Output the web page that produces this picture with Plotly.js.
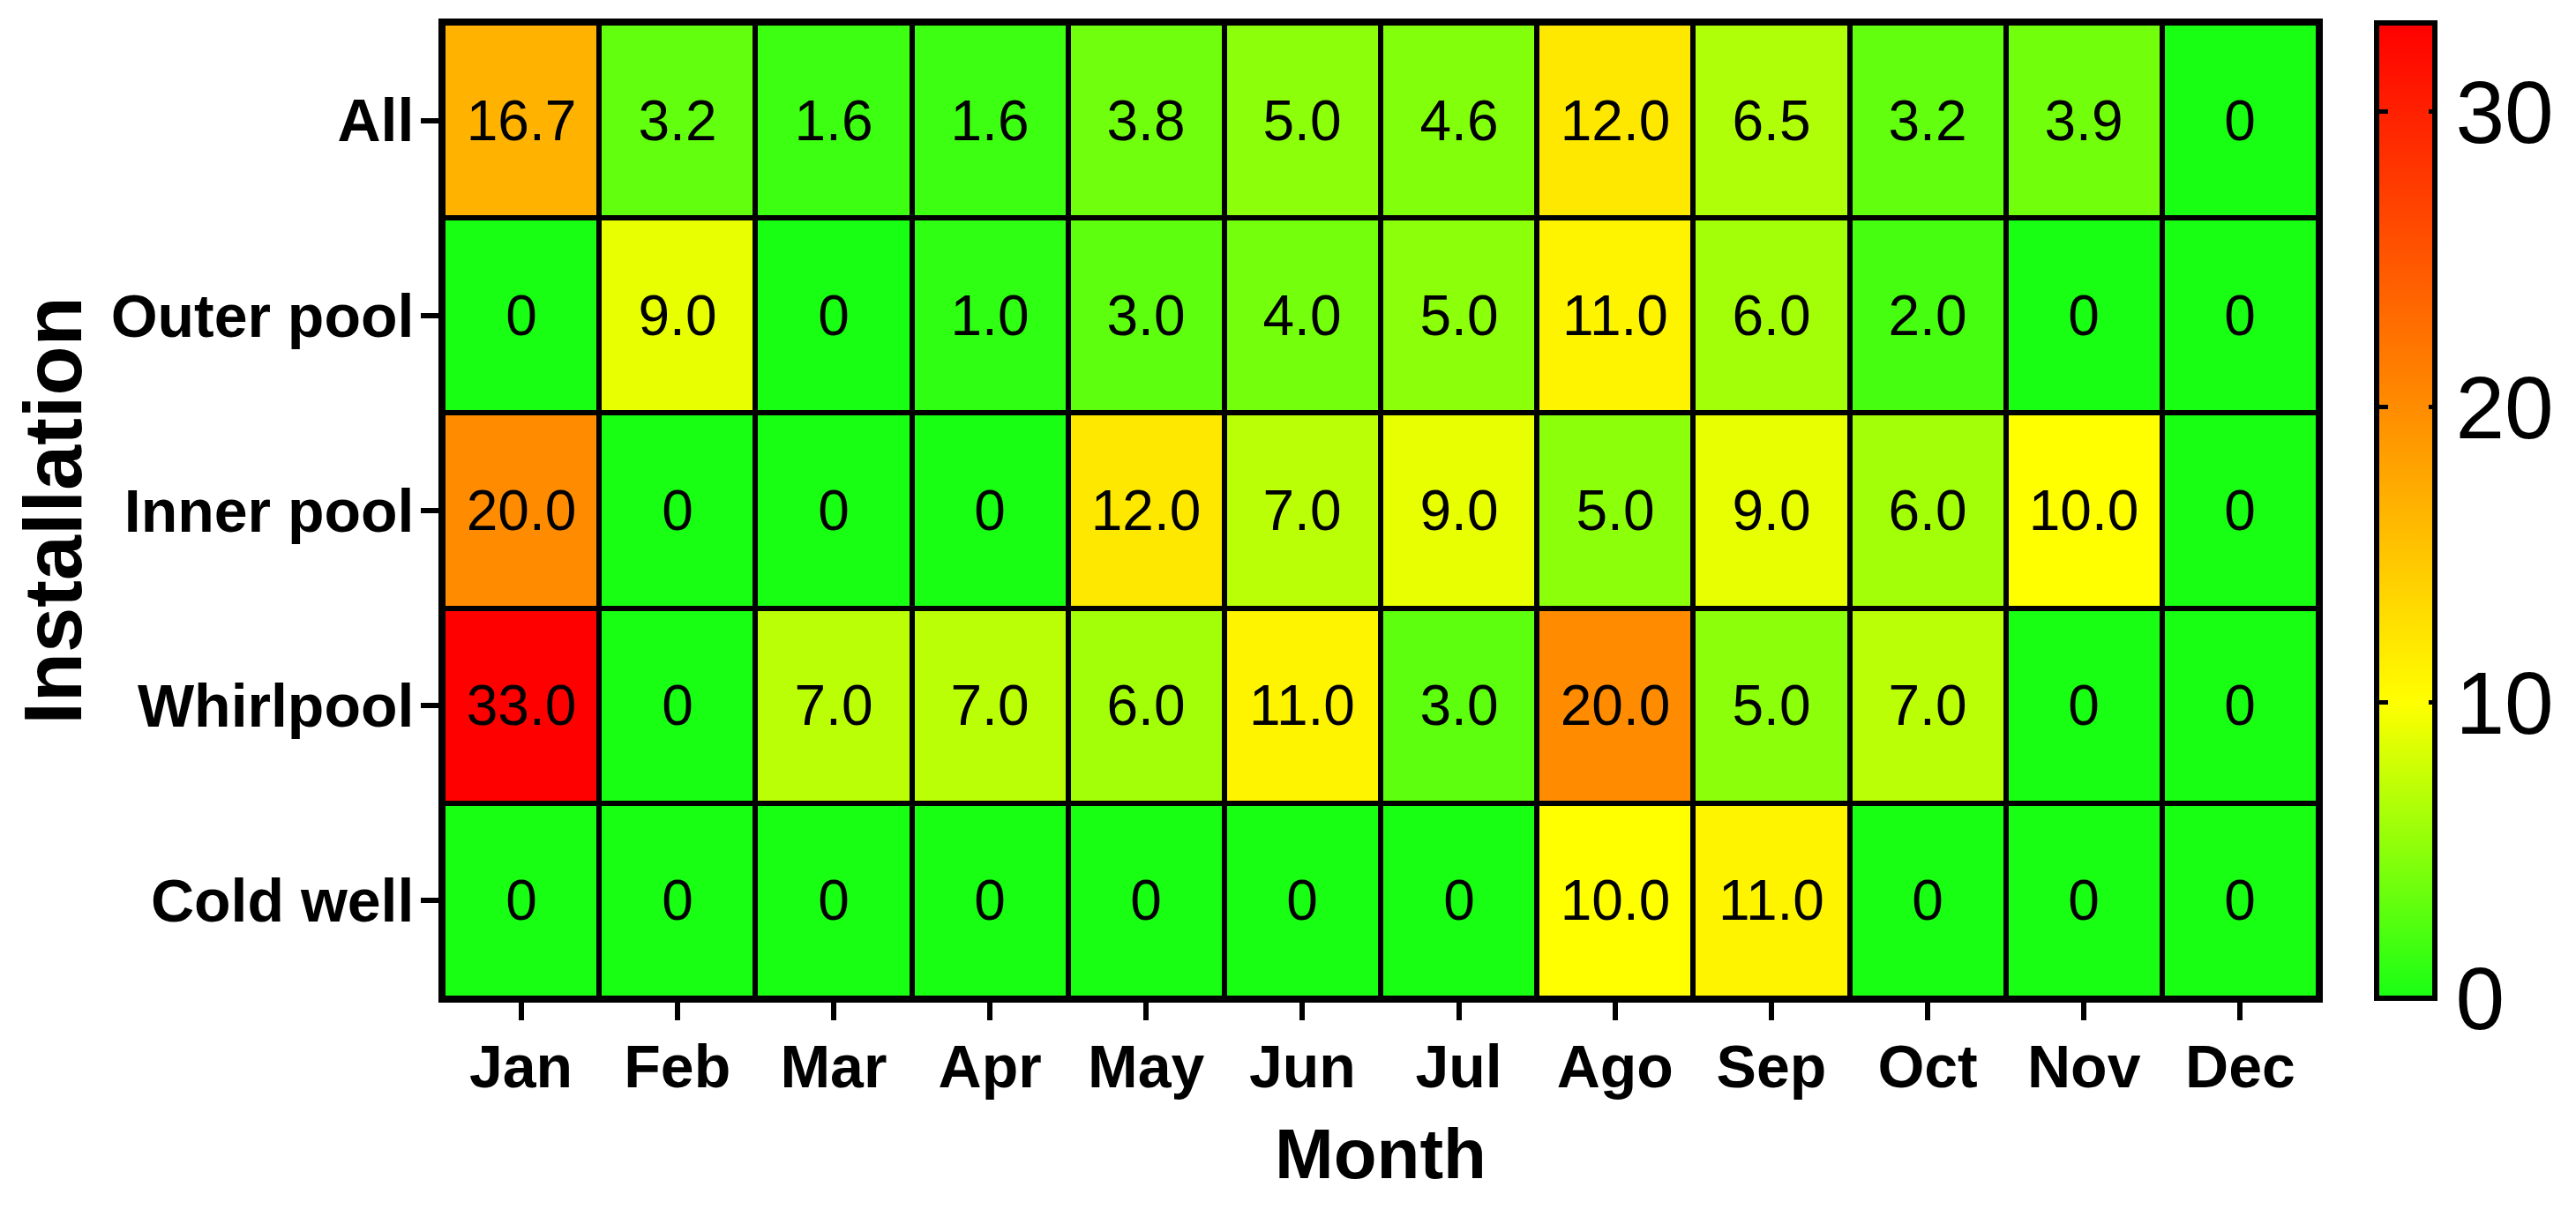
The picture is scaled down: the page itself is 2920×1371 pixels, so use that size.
<!DOCTYPE html>
<html>
<head>
<meta charset="utf-8">
<script src="https://cdn.plot.ly/plotly-3.0.1.min.js"></script>
<style>
  html, body { margin: 0; padding: 0; background: #ffffff; }
  #chart { width: 2920px; height: 1371px; }
</style>
</head>
<body>
<div id="chart"></div>
<script>
// Categories
const months = ['Jan', 'Feb', 'Mar', 'Apr', 'May', 'Jun', 'Jul', 'Ago', 'Sep', 'Oct', 'Nov', 'Dec'];
const installations = ['All', 'Outer pool', 'Inner pool', 'Whirlpool', 'Cold well'];

// Series values (one per installation, Jan..Dec)
const allValues       = [16.7, 3.2, 1.6, 1.6, 3.8, 5.0, 4.6, 12.0, 6.5, 3.2, 3.9, 0];
const outerPoolValues = [0, 9.0, 0, 1.0, 3.0, 4.0, 5.0, 11.0, 6.0, 2.0, 0, 0];
const innerPoolValues = [20.0, 0, 0, 0, 12.0, 7.0, 9.0, 5.0, 9.0, 6.0, 10.0, 0];
const whirlpoolValues = [33.0, 0, 7.0, 7.0, 6.0, 11.0, 3.0, 20.0, 5.0, 7.0, 0, 0];
const coldWellValues  = [0, 0, 0, 0, 0, 0, 0, 10.0, 11.0, 0, 0, 0];

// Colour bar ticks
const colorbarTicks = [0, 10, 20, 30];

const z = [allValues, outerPoolValues, innerPoolValues, whirlpoolValues, coldWellValues];
const cellText = z.map(row => row.map(v => (v === 0 ? '0' : v.toFixed(1))));

const FONT = 'Arial, "Liberation Sans", Helvetica, sans-serif';
const colorscale = [
  [0, '#18ff14'],
  [10 / 33, '#ffff00'],
  [20 / 33, '#ff8c00'],
  [1, '#ff0000']
];

const PLOT_L = 502, PLOT_R = 2632;
const cbX = (2698 - PLOT_L) / (PLOT_R - PLOT_L);

const mainTrace = {
  type: 'heatmap',
  x: months,
  y: installations,
  z: z,
  zmin: 0,
  zmax: 33,
  colorscale: colorscale,
  xgap: 6,
  ygap: 6,
  text: cellText,
  texttemplate: '%{text}',
  textfont: { family: FONT, size: 64, color: '#000000' },
  hoverinfo: 'skip',
  colorbar: {
    thickness: 66,
    len: 1,
    lenmode: 'fraction',
    y: 0.5,
    yanchor: 'middle',
    x: cbX,
    xanchor: 'left',
    xpad: 0,
    ypad: 0,
    outlinewidth: 6,
    outlinecolor: '#000000',
    tickmode: 'array',
    tickvals: colorbarTicks,
    ticktext: colorbarTicks.map(String),
    ticks: 'inside',
    ticklen: 10,
    tickwidth: 5,
    tickcolor: '#000000',
    tickfont: { family: FONT, size: 100, color: '#000000' },
    borderwidth: 0
  }
};

// Second (invisible) copy of the same matrix, used only to draw the
// tick marks on the left inner side of the colour bar.
const tickTrace = {
  type: 'heatmap',
  x: months,
  y: installations,
  z: z,
  zmin: 0,
  zmax: 33,
  colorscale: [[0, '#000000'], [1, '#000000']],
  opacity: 0,
  hoverinfo: 'skip',
  colorbar: {
    thickness: 4,
    len: 1,
    lenmode: 'fraction',
    y: 0.5,
    yanchor: 'middle',
    x: (2697 - PLOT_L) / (PLOT_R - PLOT_L),
    xanchor: 'left',
    xpad: 0,
    ypad: 0,
    outlinewidth: 0,
    tickmode: 'array',
    tickvals: colorbarTicks,
    ticks: 'outside',
    ticklen: 10,
    tickwidth: 5,
    tickcolor: '#000000',
    showticklabels: false,
    borderwidth: 0
  }
};

const layout = {
  width: 2920,
  height: 1371,
  paper_bgcolor: '#ffffff',
  plot_bgcolor: '#000000',
  margin: { l: PLOT_L, r: 2920 - PLOT_R, t: 26, b: 239, pad: 0 },
  showlegend: false,
  xaxis: {
    type: 'category',
    showline: true,
    linewidth: 5,
    linecolor: '#000000',
    mirror: true,
    ticks: 'outside',
    ticklen: 20,
    tickwidth: 6,
    tickcolor: '#000000',
    showgrid: false,
    zeroline: false,
    ticklabelstandoff: -6,
    tickfont: { family: FONT, size: 68, color: '#000000', weight: 'bold' },
    title: { text: 'Month', font: { family: FONT, size: 80, color: '#000000', weight: 'bold' }, standoff: 36 }
  },
  yaxis: {
    type: 'category',
    autorange: 'reversed',
    showline: true,
    linewidth: 5,
    linecolor: '#000000',
    mirror: true,
    ticks: 'outside',
    ticklen: 20,
    tickwidth: 6,
    tickcolor: '#000000',
    showgrid: false,
    zeroline: false,
    ticklabelstandoff: -6,
    tickfont: { family: FONT, size: 68, color: '#000000', weight: 'bold' },
    title: { text: 'Installation', font: { family: FONT, size: 92, color: '#000000', weight: 'bold' }, standoff: 4 }
  }
};

Plotly.newPlot('chart', [mainTrace, tickTrace], layout, { displayModeBar: false, responsive: false });
</script>
</body>
</html>
